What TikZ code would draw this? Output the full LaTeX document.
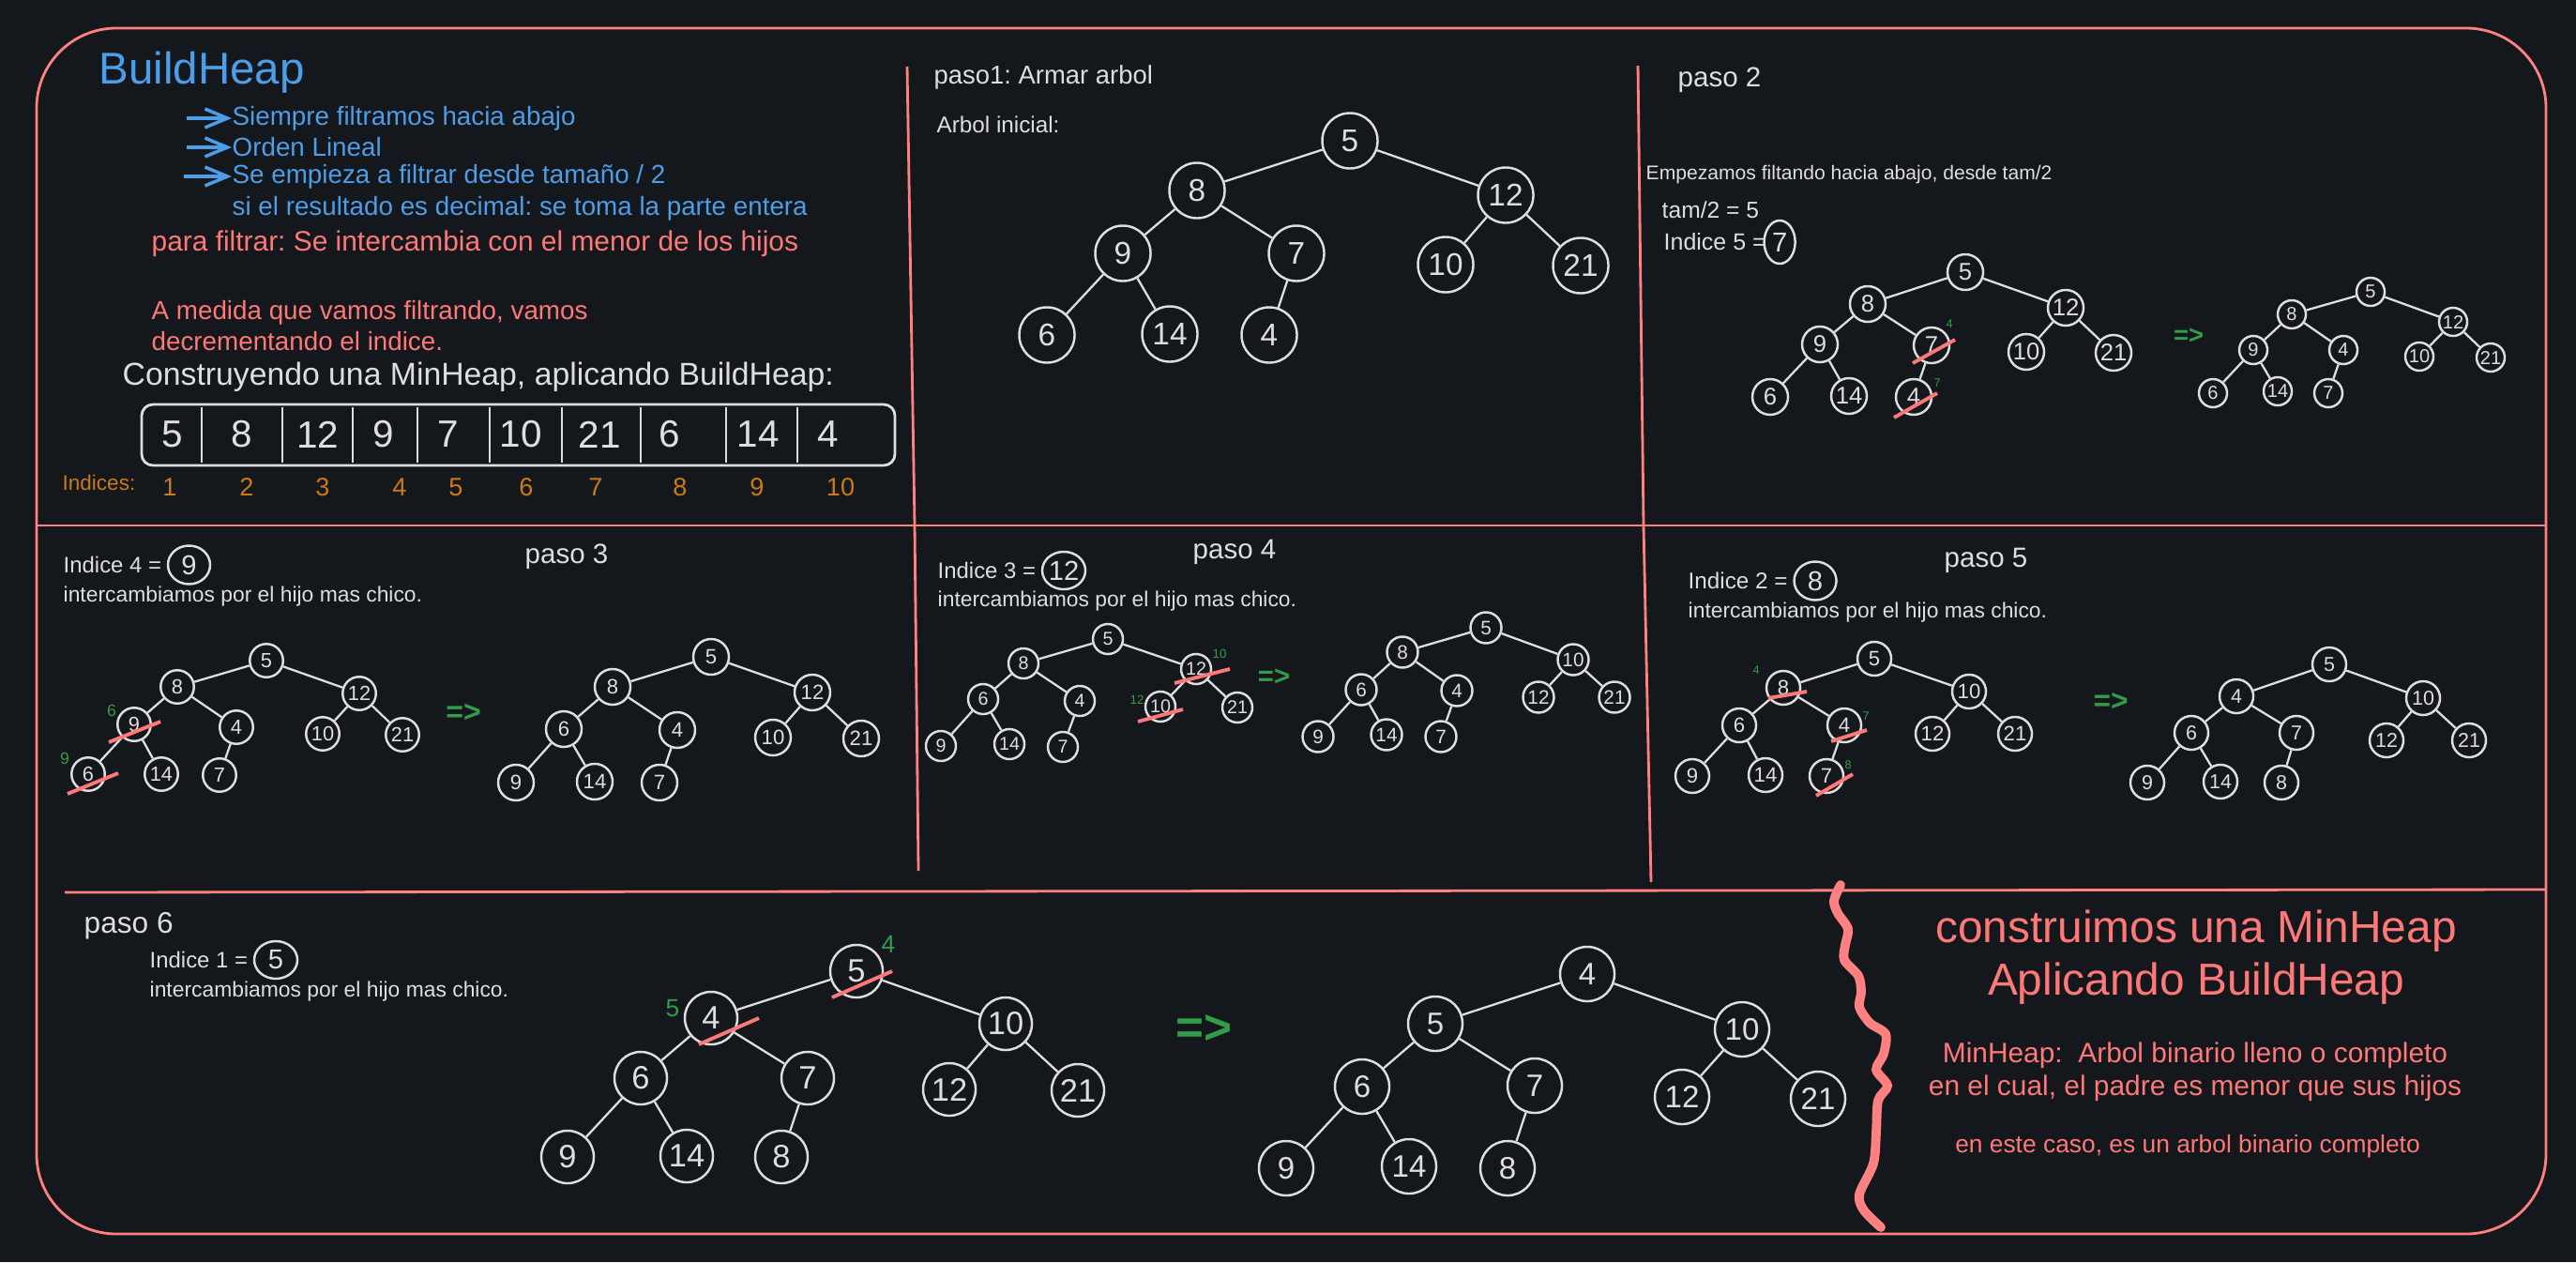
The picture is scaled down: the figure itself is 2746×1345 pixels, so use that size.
\documentclass[tikz,border=0pt]{standalone}
\usepackage{fontspec}
\setmainfont{Liberation Sans}
\usetikzlibrary{arrows.meta,positioning,calc,shapes.geometric}
\definecolor{BoardBg}{RGB}{20,23,28}
\definecolor{FrameRed}{RGB}{255,128,128}
\definecolor{NoteRed}{RGB}{255,120,120}
\definecolor{NoteBlue}{RGB}{76,158,232}
\definecolor{IdxOrange}{RGB}{204,122,20}
\definecolor{SwapGreen}{RGB}{48,158,72}
\definecolor{ChalkGray}{RGB}{222,222,222}
\frenchspacing
\newcommand{\fsz}[1]{\fontsize{#1}{#1}\selectfont}
\newcommand{\heaptree}[4]{%
  \foreach \v/\x/\y [count=\i] in {#4}
    \node[hnode, minimum size=#2cm, font=\fsz{#3}] (#1\i) at (\x,\y) {\v};
  \foreach \a/\b in {1/2,1/3,2/4,2/5,3/6,3/7,4/8,4/9,5/10}
    \draw[hedge] (#1\a) -- (#1\b);
}

\begin{document}
\begin{tikzpicture}[x=0.01cm, y=-0.01cm,
  boardline/.style={draw=FrameRed, line width=0.8pt},
  hnode/.style={circle, draw=ChalkGray, line width=0.7pt, text=ChalkGray, inner sep=0pt},
  hedge/.style={draw=ChalkGray, line width=0.65pt},
  tachado/.style={draw=NoteRed, line width=1.1pt},
  txt/.style={text=ChalkGray, inner sep=0pt, anchor=west},
  swapnum/.style={text=SwapGreen, inner sep=0pt, font=\fsz{#1}},
  thenarrow/.style={text=SwapGreen, inner sep=0pt, font=\bfseries\fsz{#1}},
  idxcirc/.style={ellipse, draw=ChalkGray, line width=0.7pt, text=ChalkGray, inner sep=0pt, font=\fsz{8.3}},
  bluearrow/.style={-{Straight Barb[length=0.24cm,width=0.2cm]}, draw=NoteBlue, line width=1pt},
  cell/.style={text=ChalkGray, inner sep=0pt, font=\fsz{11.5}},
  idxnum/.style={text=IdxOrange, inner sep=0pt, font=\fsz{7.7}}]
\fill[BoardBg] (0,0) rectangle (2746,1345);
\draw[boardline, rounded corners=0.85cm] (39,30) rectangle (2714,1315);
\draw[boardline] (39,560) -- (2714,560);
\draw[boardline] (69,951) -- (2714,948);
\draw[boardline] (967,71) -- (975,560) -- (979,928);
\draw[boardline] (1746,70) -- (1752,560) -- (1760,940);
\draw[FrameRed, line width=2.8pt, line cap=round] plot[smooth] coordinates {(1962,943) (1955,960) (1959,973) (1970,990) (1967,1007) (1966,1023) (1981,1040) (1984,1057) (1982,1073) (1993,1090) (2010,1102) (2008,1123) (2000,1140) (2012,1157) (2002,1173) (2000,1207) (1997,1240) (1982,1273) (1987,1290) (2005,1308)};

\node[txt, text=NoteBlue, font=\fsz{13.5}] (title) at (105,77) {BuildHeap};
\node[txt, text=NoteBlue, font=\fsz{7.9}] (rule1) at (247,126) {Siempre filtramos hacia abajo};
\node[txt, text=NoteBlue, font=\fsz{7.9}] (rule2) at (247,157) {Orden Lineal};
\node[txt, text=NoteBlue, font=\fsz{7.9}] (rule3) at (247,188) {Se empieza a filtrar desde tamaño / 2};
\node[txt, text=NoteBlue, font=\fsz{7.9}] (rule4) at (247,222) {si el resultado es decimal: se toma la parte entera};
\coordinate (ar1) at (199,126);
\coordinate (ar2) at (199,157);
\coordinate (ar3) at (196,188);
\draw[bluearrow] (ar1) -- (rule1.west);
\draw[bluearrow] (ar2) -- (rule2.west);
\draw[bluearrow] (ar3) -- (rule3.west);
\node[txt, text=NoteRed, font=\fsz{8.5}] (filtro) at (161,260) {para filtrar: Se intercambia con el menor de los hijos};
\node[txt, text=NoteRed, align=left, font=\fontsize{7.9}{9.4}\selectfont] (medida) at (161,347) {A medida que vamos filtrando, vamos\\decrementando el indice.};
\node[txt, font=\fsz{9.6}] (constr) at (130,402) {Construyendo una MinHeap, aplicando BuildHeap:};
\draw[ChalkGray, line width=0.8pt, rounded corners=0.12cm] (151,431) rectangle (954,496);
\foreach \x in {215,301,376,445,522,599,683,774,850}
  \draw[ChalkGray, line width=0.7pt] (\x,434) -- (\x,493);
\foreach \v/\x [count=\i] in {5/184,8/258,12/339,9/409,7/478,10/555,21/639,6/714,14/808,4/883}
  \node[cell] (cell\i) at (\x,463) {\v};
\node[txt, text=IdxOrange, font=\fsz{6.4}] (indices) at (66,514) {Indices:};
\foreach \x [count=\i] in {181,263,344,426,486,561,635,725,807,896}
  \node[idxnum] (idx\i) at (\x,519) {\i};

\node[txt, font=\fsz{7.8}] (paso1) at (995,82) {paso1: Armar arbol};
\node[txt, font=\fsz{6.9}] (inicial) at (998,133) {Arbol inicial:};
\heaptree{uno}{0.59}{9.5}{5/1439/150, 8/1276/203, 12/1605/208, 9/1197/270, 7/1382/270, 10/1541/282, 21/1685/283, 6/1116/357, 14/1247/356, 4/1353/357}

\node[txt, font=\fsz{8.4}] (paso2) at (1788,85) {paso 2};
\node[txt, font=\fsz{6}] (empezamos) at (1754,186) {Empezamos filtando hacia abajo, desde tam/2};
\node[txt, font=\fsz{7}] (tam) at (1771,224) {tam/2 = 5};
\node[txt, font=\fsz{7.1}] (ind5) at (1773,258) {Indice 5 =};
\node[idxcirc, minimum width=0.33cm, minimum height=0.46cm, right=-0.04cm of ind5] (c5) {7};
\heaptree{dosA}{0.38}{7.3}{5/2095/290, 8/1991/324, 12/2202/328, 9/1940/367, 7/2059/368, 10/2160/375, 21/2253/376, 6/1887/423, 14/1971/422, 4/2040/423}
\heaptree{dosB}{0.30}{5.7}{5/2527/311, 8/2443/335, 12/2615/343, 9/2402/373, 4/2498/373, 10/2579/380, 21/2655/381, 6/2359/419, 14/2428/417, 7/2482/419}
\draw[tachado] ($(dosA5)+(-20,19)$) -- ($(dosA5)+(25,-6)$);
\draw[tachado] ($(dosA10)+(-21,22)$) -- ($(dosA10)+(25,-4)$);
\node[swapnum=3.6] (g2a) at (2078,345) {4};
\node[swapnum=3.6] (g2b) at (2065,408) {7};
\node[thenarrow=7.8] (then2) at (2333,358) {=>};

\node[txt, font=\fsz{8.4}] (paso3) at (559,593) {paso 3};
\node[txt, font=\fsz{6.8}] (ind4) at (67,602) {Indice 4 =};
\node[idxcirc, minimum width=0.45cm, minimum height=0.41cm, right=0.05cm of ind4] (c4) {9};
\node[txt, font=\fsz{6.5}] (inter3) at (67,636) {intercambiamos por el hijo mas chico.};
\heaptree{tresA}{0.355}{6.2}{5/284/704, 8/189/732, 12/383/739, 9/143/772, 4/252/775, 10/344/782, 21/429/783, 6/94/825, 14/172/825, 7/234/826}
\heaptree{tresB}{0.38}{6.3}{5/758/700, 8/653/732, 12/866/738, 6/601/777, 4/722/778, 10/824/786, 21/918/787, 9/550/834, 14/634/833, 7/703/834}
\draw[tachado] ($(tresA4)+(-27,19)$) -- ($(tresA4)+(28,-3)$);
\draw[tachado] ($(tresA8)+(-22,21)$) -- ($(tresA8)+(32,-1)$);
\node[swapnum=5] (g3a) at (119,757) {6};
\node[swapnum=5] (g3b) at (69,808) {9};
\node[thenarrow=9.1] (then3) at (494,760) {=>};

\node[txt, font=\fsz{8.4}] (paso4) at (1271,588) {paso 4};
\node[txt, font=\fsz{6.8}] (ind3) at (999,608) {Indice 3 =};
\node[idxcirc, minimum width=0.46cm, minimum height=0.40cm, right=0.05cm of ind3] (c3) {12};
\node[txt, font=\fsz{6.5}] (inter4) at (999,641) {intercambiamos por el hijo mas chico.};
\heaptree{cuatroA}{0.32}{5.6}{5/1181/681, 8/1091/707, 12/1275/713, 6/1048/745, 4/1151/747, 10/1237/753, 21/1319/754, 9/1003/795, 14/1076/793, 7/1133/796}
\heaptree{cuatroB}{0.33}{5.9}{5/1584/669, 8/1495/695, 10/1677/703, 6/1451/735, 4/1553/736, 12/1640/743, 21/1721/743, 9/1405/785, 14/1478/783, 7/1536/785}
\draw[tachado] ($(cuatroA3)+(-23,15)$) -- ($(cuatroA3)+(36,0)$);
\draw[tachado] ($(cuatroA6)+(-24,16)$) -- ($(cuatroA6)+(24,3)$);
\node[swapnum=3.8] (g4a) at (1300,697) {10};
\node[swapnum=3.8] (g4b) at (1212,746) {12};
\node[thenarrow=8.3] (then4) at (1358,722) {=>};

\node[txt, font=\fsz{8.4}] (paso5) at (2072,597) {paso 5};
\node[txt, font=\fsz{6.9}] (ind2) at (1799,619) {Indice 2 =};
\node[idxcirc, minimum width=0.45cm, minimum height=0.41cm, right=0.05cm of ind2] (c2) {8};
\node[txt, font=\fsz{6.5}] (inter5) at (1799,653) {intercambiamos por el hijo mas chico.};
\heaptree{cincoA}{0.36}{6.3}{5/1998/702, 8/1901/733, 10/2099/737, 6/1854/773, 4/1966/773, 12/2060/782, 21/2148/782, 9/1804/827, 14/1882/826, 7/1947/827}
\heaptree{cincoB}{0.36}{6.1}{5/2483/708, 4/2384/742, 10/2583/744, 6/2336/781, 7/2448/781, 12/2544/789, 21/2632/789, 9/2289/834, 14/2367/833, 8/2432/834}
\draw[tachado] ($(cincoA2)+(-16,11)$) -- ($(cincoA2)+(25,4)$);
\draw[tachado] ($(cincoA5)+(-14,17)$) -- ($(cincoA5)+(24,5)$);
\draw[tachado] ($(cincoA10)+(-11,21)$) -- ($(cincoA10)+(28,-2)$);
\node[swapnum=3.6] (g5a) at (1872,714) {4};
\node[swapnum=3.6] (g5b) at (1989,763) {7};
\node[swapnum=3.6] (g5c) at (1970,815) {8};
\node[thenarrow=9] (then5) at (2250,748) {=>};

\node[txt, font=\fsz{9}] (paso6) at (89,987) {paso 6};
\node[txt, font=\fsz{6.8}] (ind1) at (159,1023) {Indice 1 =};
\node[idxcirc, minimum width=0.46cm, minimum height=0.40cm, right=0.05cm of ind1] (c1) {5};
\node[txt, font=\fsz{6.5}] (inter6) at (159,1057) {intercambiamos por el hijo mas chico.};
\heaptree{seisA}{0.56}{9.8}{5/913/1035, 4/758/1085, 10/1072/1091, 6/683/1149, 7/861/1149, 12/1012/1161, 21/1149/1162, 9/605/1233, 14/732/1232, 8/833/1233}
\heaptree{seisB}{0.58}{9.4}{4/1692/1038, 5/1530/1091, 10/1857/1097, 6/1452/1158, 7/1636/1157, 12/1793/1169, 21/1938/1171, 9/1371/1245, 14/1502/1243, 8/1607/1245}
\draw[tachado] ($(seisA1)+(-26,28)$) -- ($(seisA1)+(38,0)$);
\draw[tachado] ($(seisA2)+(-13,28)$) -- ($(seisA2)+(51,0)$);
\node[swapnum=7.5] (g6a) at (947,1006) {4};
\node[swapnum=7.5] (g6b) at (717,1075) {5};
\node[thenarrow=14.6] (then6) at (1283,1097) {=>};

\node[text=NoteRed, align=center, inner sep=0pt, font=\fontsize{13.6}{16}\selectfont] (concl) at (2341,1020) {construimos una MinHeap\\Aplicando BuildHeap};
\node[text=NoteRed, align=center, inner sep=0pt, font=\fontsize{8.5}{10}\selectfont] (defi) at (2340,1142) {MinHeap:\ \ Arbol binario lleno o completo\\en el cual, el padre es menor que sus hijos};
\node[text=NoteRed, inner sep=0pt, font=\fsz{7.5}] (caso) at (2332,1222) {en este caso, es un arbol binario completo};
\end{tikzpicture}
\end{document}
